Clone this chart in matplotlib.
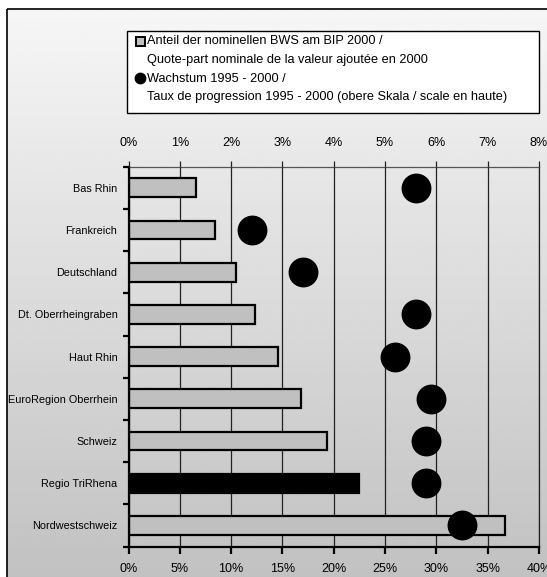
import numpy as np
import matplotlib
matplotlib.use("Agg")
import matplotlib.pyplot as plt
from matplotlib.patches import Rectangle
from matplotlib.lines import Line2D

plt.rcParams['font.family'] = ['Liberation Sans', 'DejaVu Sans']

# Regions, top to bottom
regions = ["Bas Rhin", "Frankreich", "Deutschland", "Dt. Oberrheingraben",
           "Haut Rhin", "EuroRegion Oberrhein", "Schweiz", "Regio TriRhena",
           "Nordwestschweiz"]
# Share of nominal gross value added in GDP 2000 (%), lower scale
share_2000 = [6.6, 8.4, 10.5, 12.3, 14.6, 16.8, 19.3, 22.5, 36.7]
# Growth 1995 - 2000 (%), upper scale
growth_95_00 = [5.6, 2.4, 3.4, 5.6, 5.2, 5.9, 5.8, 5.8, 6.5]
highlight = "Regio TriRhena"

bottom_ticks = [0, 5, 10, 15, 20, 25, 30, 35, 40]
top_ticks = [0, 1, 2, 3, 4, 5, 6, 7, 8]

legend_lines = ["Anteil der nominellen BWS am BIP 2000 /",
                "Quote-part nominale de la valeur ajoutée en 2000",
                "Wachstum 1995 - 2000 /",
                "Taux de progression 1995 - 2000 (obere Skala / scale en haute)"]

W, H = 547, 577
fig = plt.figure(figsize=(W / 100, H / 100), dpi=100)

# Background panel with vertical grey gradient and frame (pixel coordinates)
bg = fig.add_axes([0, 0, 1, 1], zorder=-1)
bg.set_xlim(0, W)
bg.set_ylim(H, 0)
bg.axis("off")
grad = np.linspace(246, 193, 256)[:, None] / 255.0
bg.imshow(np.repeat(grad, 2, axis=1), cmap="gray", vmin=0, vmax=1,
          extent=[7.3, W + 5, H + 5, 9.3], aspect="auto", interpolation="bilinear")
bg.add_patch(Rectangle((7.3, 9.3), W + 20, H + 20, fill=False,
                       edgecolor="black", linewidth=1.2))

# Legend box
bg.add_patch(Rectangle((127, 30.5), 411.5, 82, facecolor="white",
                       edgecolor="black", linewidth=1.0))
bg.add_patch(Rectangle((135.5, 36.5), 9, 9, facecolor="#c0c0c0",
                       edgecolor="black", linewidth=1.4))
bg.add_line(Line2D([140], [78], marker="o", markersize=7.5, color="black"))
tx = 147
for y, s in zip([41.5, 60, 78.5, 97], legend_lines):
    bg.text(tx, y, s, fontsize=9.2, va="center", ha="left")

# Main axes (lower scale: share)
ax = fig.add_axes([128.5 / W, 1 - 546.5 / H, 410.5 / W, 379.8 / H])
ax.set_facecolor("none")
ypos = np.arange(len(regions))
colors = ["black" if r == highlight else "#c0c0c0" for r in regions]
ax.barh(ypos, share_2000, height=0.45, color=colors, edgecolor="black",
        linewidth=1.6, zorder=3)
ax.set_xlim(0, 40)
ax.set_ylim(len(regions) - 0.5, -0.5)
ax.set_xticks(bottom_ticks)
ax.set_xticklabels([f"{v}%" for v in bottom_ticks], fontsize=9)
ax.set_yticks(ypos)
ax.set_yticklabels(regions, fontsize=7.8)
ax.set_yticks(np.arange(-0.5, len(regions)), minor=True)
ax.tick_params(axis="y", which="major", length=0, pad=8)
ax.tick_params(axis="y", which="minor", length=4, width=1.6, direction="out")
ax.tick_params(axis="x", length=5, width=1.6, direction="out", pad=7)
ax.xaxis.grid(True, color="#222222", linewidth=0.9, zorder=1)
ax.set_axisbelow(True)
for side in ["left", "bottom"]:
    ax.spines[side].set_linewidth(1.6)
    ax.spines[side].set_zorder(4)
ax.spines["top"].set_color("#555555")
ax.spines["top"].set_linewidth(0.9)
ax.spines["right"].set_color("#222222")
ax.spines["right"].set_linewidth(0.9)

# Upper scale: growth
ax2 = ax.twiny()
ax2.set_xlim(0, 8)
ax2.set_xticks(top_ticks)
ax2.set_xticklabels([f"{v}%" for v in top_ticks], fontsize=9)
ax2.tick_params(axis="x", length=4, width=0.9, color="#222222",
                direction="out", pad=9)
ax2.plot(growth_95_00, ypos, "o", color="black", markersize=20.5,
         linestyle="none", zorder=5, clip_on=False)
for s in ax2.spines.values():
    s.set_visible(False)

fig.savefig("out.png", dpi=100)
